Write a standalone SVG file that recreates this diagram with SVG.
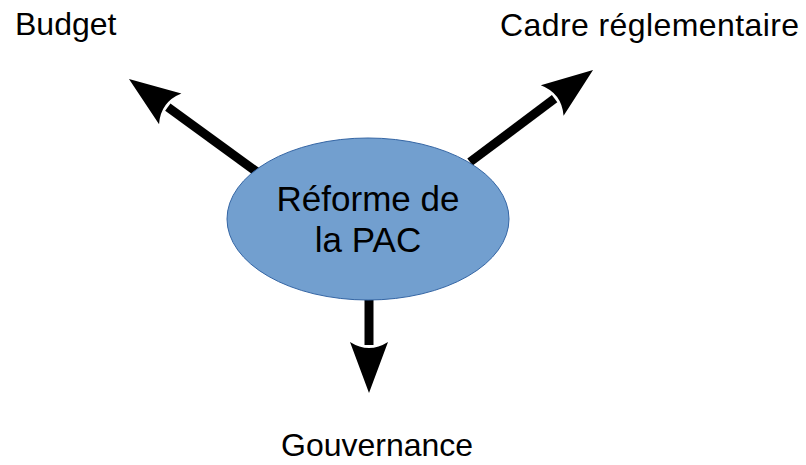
<svg xmlns="http://www.w3.org/2000/svg" width="806" height="465" viewBox="0 0 806 465">
<style>
.lbl{font-family:"Liberation Sans",Arial,sans-serif;font-size:32px;fill:#000}
.ctr{font-family:"Liberation Sans",Arial,sans-serif;font-size:35px;fill:#000;text-anchor:middle}
.conn{stroke:#000;stroke-width:9;fill:none;marker-end:url(#head)}
</style>
<defs>
<marker id="head" markerUnits="userSpaceOnUse" orient="auto" refX="0" refY="0" markerWidth="60" markerHeight="60" overflow="visible">
<path d="M48,0 L-3,-19 Q9,0 -3,19 Z" fill="#000"/>
</marker>
</defs>
<rect width="806" height="465" fill="#fff"/>
<g id="connectors">
<line class="conn" x1="257" y1="172" x2="167.8" y2="107.2"/>
<line class="conn" x1="470" y1="162" x2="554.6" y2="98.7"/>
<line class="conn" x1="369" y1="300" x2="369" y2="345"/>
</g>
<g id="center">
<ellipse cx="368" cy="219" rx="141" ry="81" fill="#729fcf" stroke="#3465a4" stroke-width="1"/>
<text class="ctr" x="368" y="211">Réforme de</text>
<text class="ctr" x="368" y="252">la PAC</text>
</g>
<g id="budget"><text class="lbl" x="15" y="35">Budget</text></g>
<g id="cadre"><text class="lbl" x="500" y="36" textLength="299">Cadre réglementaire</text></g>
<g id="gouvernance"><text class="lbl" x="281" y="456">Gouvernance</text></g>
</svg>
